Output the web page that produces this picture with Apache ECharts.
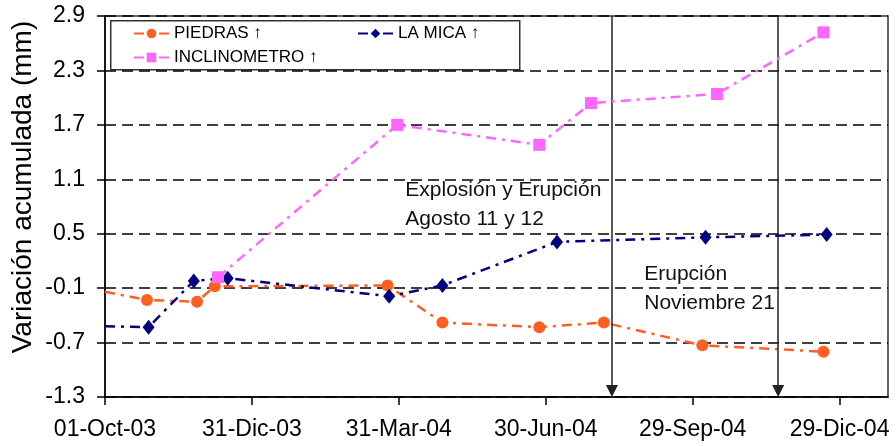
<!DOCTYPE html>
<html>
<head>
<meta charset="utf-8">
<script src="https://cdn.jsdelivr.net/npm/echarts@6/dist/echarts.min.js"></script>
<style>
  html, body { margin: 0; padding: 0; background: #fff; }
  #chart { width: 896px; height: 446px; }
</style>
</head>
<body>
<div id="chart"></div>
<script>
// días contados desde 01-Oct-03
const xTickDays = [0, 91, 182, 273, 364, 455];
const xLabels = ['01-Oct-03', '31-Dic-03', '31-Mar-04', '30-Jun-04', '29-Sep-04', '29-Dic-04'];
const yTicks = [-1.3, -0.7, -0.1, 0.5, 1.1, 1.7, 2.3, 2.9];

const piedrasDays = [0, 26, 57, 68, 175, 209, 269, 309, 370, 445];
const piedrasVals = [-0.14, -0.23, -0.25, -0.08, -0.07, -0.48, -0.53, -0.48, -0.73, -0.80];

const micaDays = [0, 27, 55, 76, 176, 209, 280, 372, 447];
const micaVals = [-0.52, -0.53, -0.02, 0.01, -0.19, -0.07, 0.41, 0.46, 0.49];

const inclinDays = [70, 181, 269, 301, 379, 445];
const inclinVals = [0.02, 1.70, 1.48, 1.94, 2.04, 2.72];

// eventos: 11 agosto 2004 y 21 noviembre 2004
const eventDays = [314, 417];

const FONT = "'Liberation Sans', Arial, sans-serif";
const dashDot = [10, 6, 3, 6];

function pairs(days, vals) {
  return days.map((d, i) => {
    const p = { value: [d, vals[i]] };
    if (d === 0) p.symbol = 'none'; // primer punto queda sobre el eje
    return p;
  });
}

const chart = echarts.init(document.getElementById('chart'), null, { renderer: 'canvas' });

const legendBase = {
  orient: 'horizontal',
  padding: 0,
  itemWidth: 35,
  itemHeight: 12,
  itemGap: 10,
  selectedMode: false,
  formatter: name => name + ' \u2191',
  textStyle: { fontFamily: FONT, fontSize: 17, color: '#000' }
};

chart.setOption({
  animation: false,
  backgroundColor: '#fff',
  grid: {
    left: 105, right: 8, top: 16, bottom: 49,
    outerBoundsMode: 'none',
    containLabel: false,
    show: true, borderColor: '#333', borderWidth: 1.5, backgroundColor: 'transparent'
  },
  graphic: [
    {
      type: 'rect',
      left: 110, top: 20, z: 0,
      shape: { width: 409, height: 49 },
      style: { fill: '#fff', stroke: '#333', lineWidth: 1.5 }
    },
    {
      // título del eje Y
      type: 'text',
      x: 23, y: 187,
      rotation: Math.PI / 2,
      style: {
        text: 'Variación acumulada (mm)',
        font: "28px 'Liberation Sans', Arial, sans-serif",
        fill: '#000',
        align: 'center',
        verticalAlign: 'middle'
      }
    }
  ],
  legend: [
    Object.assign({}, legendBase, { data: ['PIEDRAS'], left: 133, top: 25 }),
    Object.assign({}, legendBase, { data: ['LA MICA'], left: 357, top: 25 }),
    Object.assign({}, legendBase, { data: ['INCLINOMETRO'], left: 133, top: 49 })
  ],
  xAxis: {
    type: 'value',
    min: 0, max: 485,
    axisLine: { onZero: false, lineStyle: { color: '#000', width: 1.5 } },
    axisTick: { show: true, length: 8, customValues: xTickDays, lineStyle: { color: '#000', width: 1.5 } },
    splitLine: { show: false },
    axisLabel: {
      customValues: xTickDays,
      margin: 21,
      fontFamily: FONT, fontSize: 23, color: '#000',
      formatter: v => xLabels[xTickDays.indexOf(Math.round(v))] || ''
    }
  },
  yAxis: {
    type: 'value',
    min: -1.3, max: 2.9, interval: 0.6,
    axisLine: { show: true, onZero: false, lineStyle: { color: '#000', width: 1.5 } },
    axisTick: { show: true, length: 8, lineStyle: { color: '#000', width: 1.5 } },
    splitLine: { show: true, lineStyle: { color: '#000', width: 1.5, type: [11, 6] } },
    axisLabel: {
      margin: 20,
      fontFamily: FONT, fontSize: 23, color: '#000',
      formatter: v => {
        const r = Math.round(v * 10) / 10;
        return yTicks.includes(r) ? r.toFixed(1) : '';
      }
    }
  },
  series: [
    {
      name: 'PIEDRAS',
      type: 'line',
      data: pairs(piedrasDays, piedrasVals),
      symbol: 'circle', symbolSize: 12,
      itemStyle: { color: '#ff6020' },
      lineStyle: { color: '#ff6020', width: 2.5, type: dashDot },
      z: 3,
      markLine: {
        silent: true,
        symbol: ['none', 'triangle'],
        symbolSize: [12, 12],
        label: { show: false },
        lineStyle: { color: '#222', width: 1.5, type: 'solid' },
        data: eventDays.map(d => [{ coord: [d, 2.9] }, { coord: [d, -1.235] }])
      },
      markPoint: {
        silent: true,
        symbol: 'circle', symbolSize: 0,
        label: {
          show: true, position: 'right', distance: 0,
          fontFamily: FONT, fontSize: 21, lineHeight: 29, color: '#111', align: 'left'
        },
        data: [
          { coord: [186, 0.82], label: { formatter: 'Explosión y Erupción\nAgosto 11 y 12' } },
          { coord: [334, -0.11], label: { formatter: 'Erupción\nNoviembre 21' } }
        ]
      }
    },
    {
      name: 'LA MICA',
      type: 'line',
      data: pairs(micaDays, micaVals),
      symbol: 'diamond', symbolSize: [12, 15],
      itemStyle: { color: '#000080' },
      lineStyle: { color: '#000080', width: 2.5, type: dashDot },
      z: 4
    },
    {
      name: 'INCLINOMETRO',
      type: 'line',
      data: pairs(inclinDays, inclinVals),
      symbol: 'rect', symbolSize: 12,
      itemStyle: { color: '#ff66ff' },
      lineStyle: { color: '#ff66ff', width: 2.5, type: dashDot },
      z: 5
    }
  ]
});
</script>
</body>
</html>
